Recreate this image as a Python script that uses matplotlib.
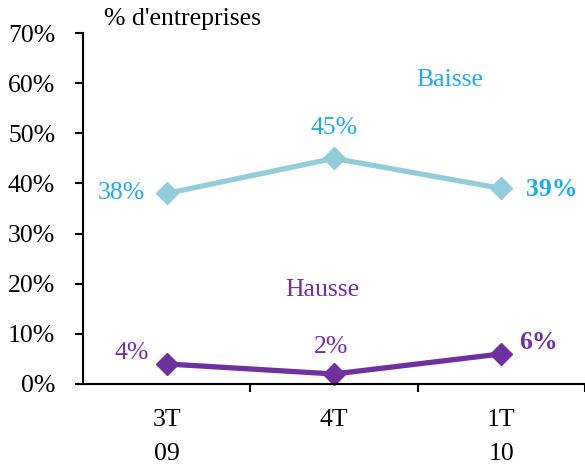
import numpy as np
import matplotlib.pyplot as plt

plt.rcParams['font.family'] = ['Liberation Serif', 'DejaVu Serif']

categories = ["3T\n09", "4T", "1T\n10"]
baisse = [38, 45, 39]
hausse = [4, 2, 6]

c_baisse_line = '#92CDDC'
c_baisse_txt = '#1AADE8'
c_hausse = '#7030A0'
fs = 18.5

fig = plt.figure(figsize=(5.85, 4.66), dpi=100)
ax = fig.add_axes([83 / 585, 82 / 466, 502 / 585, 351 / 466])

x = np.arange(len(categories))
ax.plot(x, baisse, color=c_baisse_line, lw=3.8, marker='D', ms=11, clip_on=False)
ax.plot(x, hausse, color=c_hausse, lw=3.8, marker='D', ms=11, clip_on=False)

ax.set_xlim(-0.5, 2.5)
ax.set_ylim(0, 70)
ax.set_yticks(range(0, 71, 10))
ax.set_yticklabels([f"{v}%" for v in range(0, 71, 10)], fontsize=fs)
ax.set_xticks(x)
ax.set_xticklabels(categories, fontsize=fs, linespacing=1.7)
ax.set_xticks([0.5, 1.5, 2.5], minor=True)
ax.tick_params(axis='x', which='major', length=0, pad=18)
ax.tick_params(axis='x', which='minor', length=6, width=1.5, direction='out')
ax.tick_params(axis='y', length=6, width=1.5, direction='out', pad=14)
for s in ['top', 'right']:
    ax.spines[s].set_visible(False)
for s in ['left', 'bottom']:
    ax.spines[s].set_linewidth(1.5)

# value labels
ax.text(x[0] - 0.27, baisse[0], f"{baisse[0]}%", color=c_baisse_txt, fontsize=fs, ha='center', va='center')
ax.text(x[1], baisse[1] + 6, f"{baisse[1]}%", color=c_baisse_txt, fontsize=fs, ha='center', va='center')
ax.text(x[2] + 0.30, baisse[2] - 0.2, f"{baisse[2]}%", color=c_baisse_txt, fontsize=fs, ha='center', va='center', fontweight='bold')
ax.text(x[0] - 0.21, hausse[0] + 2.2, f"{hausse[0]}%", color=c_hausse, fontsize=fs, ha='center', va='center')
ax.text(x[1] - 0.02, hausse[1] + 5.4, f"{hausse[1]}%", color=c_hausse, fontsize=fs, ha='center', va='center')
ax.text(x[2] + 0.22, hausse[2] + 2.2, f"{hausse[2]}%", color=c_hausse, fontsize=fs, ha='center', va='center', fontweight='bold')

ax.text(1.69, 60.6, "Baisse", color=c_baisse_txt, fontsize=fs, ha='center', va='center')
ax.text(0.93, 18.7, "Hausse", color=c_hausse, fontsize=fs, ha='center', va='center')

fig.text(104 / 585, 1 - 19 / 466, "% d'entreprises", fontsize=fs, ha='left', va='center')

fig.savefig("out.png", dpi=100)
